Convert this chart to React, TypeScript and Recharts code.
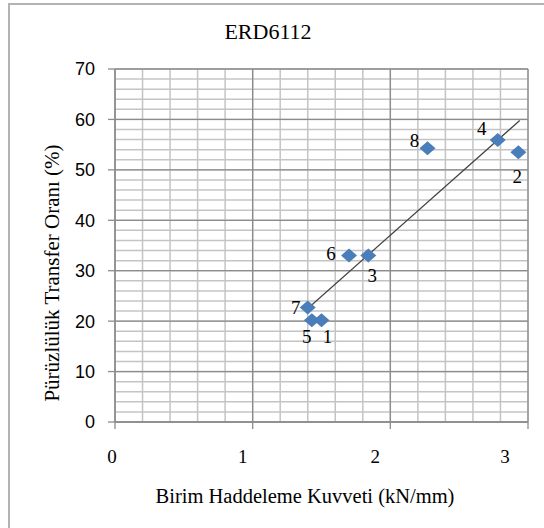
import React from 'react';
import { ScatterChart, Scatter, XAxis, YAxis, CartesianGrid, ReferenceLine, LabelList } from 'recharts';

const pointLabels = ['1', '2', '3', '4', '5', '6', '7', '8'];
const xValues = [1.5, 2.93, 1.84, 2.78, 1.43, 1.7, 1.4, 2.27];
const yValues = [20.2, 53.5, 33.0, 55.9, 20.2, 33.0, 22.7, 54.3];
const trendX = [1.4, 2.94];
const trendY = [22.5, 59.8];
const xTicks = [0, 1, 2, 3];
const yTicks = [0, 10, 20, 30, 40, 50, 60, 70];
const xMinorTicks = [0, 0.2, 0.4, 0.6, 0.8, 1, 1.2, 1.4, 1.6, 1.8, 2, 2.2, 2.4, 2.6, 2.8, 3];
const yMinorTicks = [0, 2, 4, 6, 8, 10, 12, 14, 16, 18, 20, 22, 24, 26, 28, 30, 32, 34, 36, 38, 40, 42, 44, 46, 48, 50, 52, 54, 56, 58, 60, 62, 64, 66, 68, 70];
const xDomain: [number, number] = [0, 3];
const yDomain: [number, number] = [0, 70];
const chartTitle = 'ERD6112';
const xTitle = 'Birim Haddeleme Kuvveti (kN/mm)';
const yTitle = 'Pürüzlülük Transfer Oranı (%)';

const data = xValues.map((x, i) => ({ x, y: yValues[i], label: pointLabels[i] }));

// label offsets (style) relative to each marker
const labelOffsets: [number, number][] = [
  [6, 16], [-1, 24], [4, 20], [-16, -12], [-5, 16], [-18, -2], [-12, 0], [-13, -8],
];
const xTickShift = [-3, -10, -15, -23];

const serif = '"Liberation Serif", "Times New Roman", serif';
const sans = '"Liberation Sans", Arial, sans-serif';

const Diamond = (props: any) => {
  const { cx, cy } = props;
  if (cx == null || cy == null) return null;
  const w = 8, h = 7;
  return <polygon points={`${cx},${cy - h} ${cx + w},${cy} ${cx},${cy + h} ${cx - w},${cy}`} fill="#4A7EBB" />;
};

const PointLabel = (props: any) => {
  const { x, y, width, height, value, index } = props;
  const cx = x + (width || 0) / 2;
  const cy = y + (height || 0) / 2;
  const [dx, dy] = labelOffsets[index] || [0, 0];
  return (
    <text x={cx + dx} y={cy + dy} textAnchor="middle" dominantBaseline="central" fontFamily={serif} fontSize={19} fill="#000">
      {value}
    </text>
  );
};

const XTick = (props: any) => {
  const { x, y, payload, index } = props;
  return (
    <text x={x + (xTickShift[index] || 0)} y={y} dy={25} textAnchor="middle" dominantBaseline="central" fontFamily={serif} fontSize={19} fill="#000">
      {payload.value}
    </text>
  );
};

const scaleOf = (axis: any, domain: [number, number], start: number, size: number, invert: boolean) => {
  const s = axis && typeof axis.scale === 'function' ? axis.scale : null;
  return (v: number) => {
    if (s) {
      const r = s(v);
      if (typeof r === 'number' && !isNaN(r)) return r;
    }
    const t = (v - domain[0]) / (domain[1] - domain[0]);
    return invert ? start + size * (1 - t) : start + size * t;
  };
};

const minorHorizontal = (p: any) => {
  const off = p.offset || {};
  const f = scaleOf(p.yAxis, yDomain, off.top, off.height, true);
  return yMinorTicks.map(f);
};
const minorVertical = (p: any) => {
  const off = p.offset || {};
  const f = scaleOf(p.xAxis, xDomain, off.left, off.width, false);
  return xMinorTicks.map(f);
};

export default function App() {
  return (
    <div style={{ position: 'absolute', left: 0, top: 0, width: 544, height: 528, overflow: 'hidden', background: '#fff' }}>
      <div style={{ position: 'absolute', left: 8, top: 3, width: 600, height: 600, border: '2px solid #b3b3b3' }} />
      <div style={{ position: 'absolute', left: 0, top: 3 }}>
        <ScatterChart width={544} height={525} margin={{ top: 66, right: 16, bottom: 76, left: 0 }}>
          <CartesianGrid
            stroke="#c4c4c4"
            strokeWidth={1.5}
            horizontalCoordinatesGenerator={minorHorizontal}
            verticalCoordinatesGenerator={minorVertical}
          />
          <CartesianGrid stroke="#8c8c8c" strokeWidth={1.3} />
          <XAxis
            type="number"
            dataKey="x"
            domain={xDomain}
            ticks={xTicks}
            interval={0}
            height={30}
            tickSize={7}
            tick={<XTick />}
            axisLine={{ stroke: '#8c8c8c', strokeWidth: 1.3 }}
            tickLine={{ stroke: '#8c8c8c', strokeWidth: 1.3 }}
          />
          <YAxis
            type="number"
            dataKey="y"
            domain={yDomain}
            ticks={yTicks}
            interval={0}
            width={115}
            tickSize={7}
            tickMargin={13}
            tick={{ fontFamily: sans, fontSize: 18, fill: '#000' }}
            axisLine={{ stroke: '#8c8c8c', strokeWidth: 1.3 }}
            tickLine={{ stroke: '#8c8c8c', strokeWidth: 1.3 }}
          />
          <ReferenceLine
            segment={[{ x: trendX[0], y: trendY[0] }, { x: trendX[1], y: trendY[1] }]}
            stroke="#404040"
            strokeWidth={1.2}
            ifOverflow="visible"
          />
          <Scatter data={data} shape={<Diamond />} isAnimationActive={false}>
            <LabelList dataKey="label" content={<PointLabel />} />
          </Scatter>
        </ScatterChart>
      </div>
      <div style={{ position: 'absolute', left: 268, top: 18, transform: 'translateX(-50%)', whiteSpace: 'nowrap', fontFamily: serif, fontSize: 22, lineHeight: '28px', color: '#000' }}>
        {chartTitle}
      </div>
      <div style={{ position: 'absolute', left: 305, top: 482, transform: 'translateX(-50%)', whiteSpace: 'nowrap', fontFamily: serif, fontSize: 20.5, lineHeight: '28px', color: '#000' }}>
        {xTitle}
      </div>
      <div style={{ position: 'absolute', left: 52, top: 273, transform: 'translate(-50%, -50%) rotate(-90deg)', whiteSpace: 'nowrap', fontFamily: serif, fontSize: 21, lineHeight: '28px', color: '#000' }}>
        {yTitle}
      </div>
    </div>
  );
}
